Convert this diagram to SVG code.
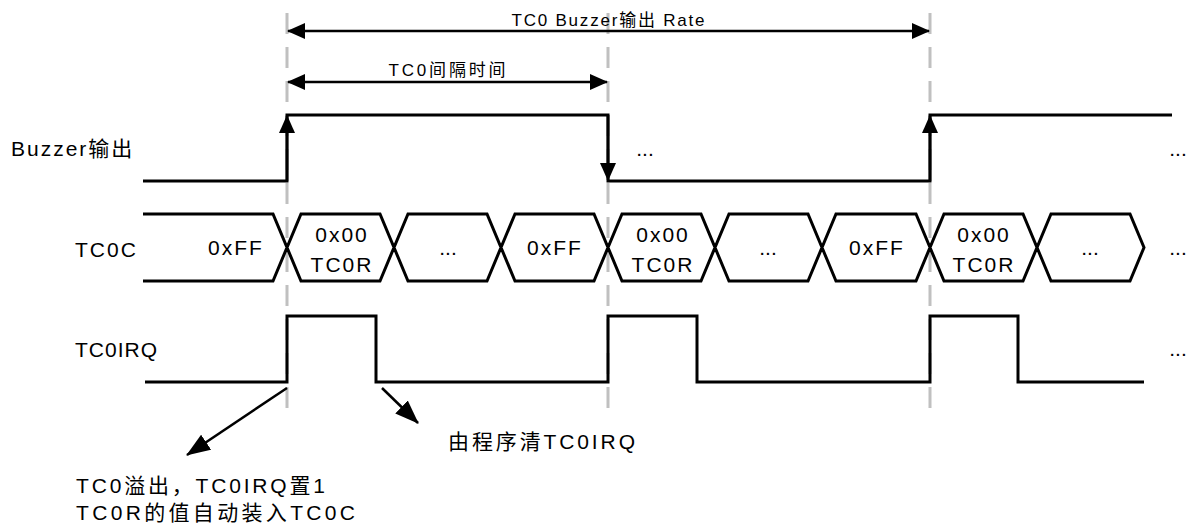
<svg xmlns="http://www.w3.org/2000/svg" width="1187" height="529" viewBox="0 0 1187 529">
<style>
.t{font-family:"Liberation Sans","Noto Sans CJK SC",sans-serif;font-size:21px;letter-spacing:2px;fill:#000}
.s{font-family:"Liberation Sans","Noto Sans CJK SC",sans-serif;font-size:17px;fill:#000}
.c{text-anchor:middle}
.sig{fill:none;stroke:#000;stroke-width:3;stroke-linejoin:miter}
.bus{fill:none;stroke:#000;stroke-width:3;stroke-linejoin:miter}
.guide{stroke:#c0c0c0;stroke-width:3;stroke-dasharray:21 13}
.arr{fill:none;stroke:#000;stroke-width:2.5}
</style>
<defs>
<marker id="ah" viewBox="0 0 18 16" refX="17" refY="8" markerWidth="18" markerHeight="16" markerUnits="userSpaceOnUse" orient="auto-start-reverse"><path d="M0,0 L18,8 L0,16 z" fill="#000"/></marker>
<marker id="ah2" viewBox="0 0 24 18" refX="23" refY="9" markerWidth="24" markerHeight="18" markerUnits="userSpaceOnUse" orient="auto"><path d="M0,0 L24,9 L0,18 z" fill="#000"/></marker>
</defs>
<g id="guides">
<line class="guide" x1="287" y1="13" x2="287" y2="409"/>
<line class="guide" x1="608" y1="13" x2="608" y2="409"/>
<line class="guide" x1="930" y1="13" x2="930" y2="409"/>
</g>
<g id="row-labels">
<text class="t" x="11" y="156">Buzzer输出</text>
<text class="t" x="75" y="257">TC0C</text>
<text class="t" x="75" y="357" style="letter-spacing:1px">TC0IRQ</text>
</g>
<g id="buzzer">
<path class="sig" d="M143,181 H287 V115 H608 V181 H930 V115 H1172"/>
<text class="t c" x="645" y="156" style="letter-spacing:0">...</text>
<text class="t c" x="1178" y="156" style="letter-spacing:0">...</text>
</g>
<g id="tc0c">
<path class="bus" d="M143,214 H273 L301,281 H380 L408,214 H487 L515,281 H594 L622,214 H701 L729,281 H808 L836,214 H916 L944,281 H1023 L1051,214 H1130 L1144,247.5 L1130,281 H1051 L1023,214 H944 L916,281 H836 L808,214 H729 L701,281 H622 L594,214 H515 L487,281 H408 L380,214 H301 L273,281 H143"/>
<text class="t c" x="236" y="255">0xFF</text>
<text class="t c" x="342" y="242">0x00</text>
<text class="t c" x="342" y="272">TC0R</text>
<text class="t c" x="448" y="255" style="letter-spacing:0">...</text>
<text class="t c" x="555" y="255">0xFF</text>
<text class="t c" x="663" y="242">0x00</text>
<text class="t c" x="663" y="272">TC0R</text>
<text class="t c" x="768" y="255" style="letter-spacing:0">...</text>
<text class="t c" x="877" y="255">0xFF</text>
<text class="t c" x="984" y="242">0x00</text>
<text class="t c" x="984" y="272">TC0R</text>
<text class="t c" x="1090" y="255" style="letter-spacing:0">...</text>
<text class="t c" x="1178" y="255" style="letter-spacing:0">...</text>
</g>
<g id="tc0irq">
<path class="sig" d="M145,382 H287 V316 H376 V382 H608 V316 H697 V382 H930 V316 H1018 V382 H1144"/>
<text class="t c" x="1178" y="356" style="letter-spacing:0">...</text>
</g>
<g id="connectors">
<path class="arr" d="M288,31 H929" marker-start="url(#ah)" marker-end="url(#ah)"/>
<path class="arr" d="M288,82 H607" marker-start="url(#ah)" marker-end="url(#ah)"/>
<path class="arr" d="M287,181 V116" marker-end="url(#ah)"/>
<path class="arr" d="M608,115 V180" marker-end="url(#ah)"/>
<path class="arr" d="M930,181 V116" marker-end="url(#ah)"/>
<path class="arr" d="M287,388 L187,455" marker-end="url(#ah2)"/>
<path class="arr" d="M382,388 L418,423" marker-end="url(#ah2)"/>
</g>
<g id="dim-labels">
<text class="s c" x="608" y="26" textLength="193" lengthAdjust="spacing">TC0 Buzzer输出 Rate</text>
<text class="s c" x="447" y="76" textLength="117" lengthAdjust="spacing">TC0间隔时间</text>
</g>
<g id="notes">
<text class="t" x="448" y="449" textLength="189" lengthAdjust="spacing">由程序清TC0IRQ</text>
<text class="t" x="76" y="493" textLength="251" lengthAdjust="spacing">TC0溢出，TC0IRQ置1</text>
<text class="t" x="76" y="520" textLength="281" lengthAdjust="spacing">TC0R的值自动装入TC0C</text>
</g>
</svg>
